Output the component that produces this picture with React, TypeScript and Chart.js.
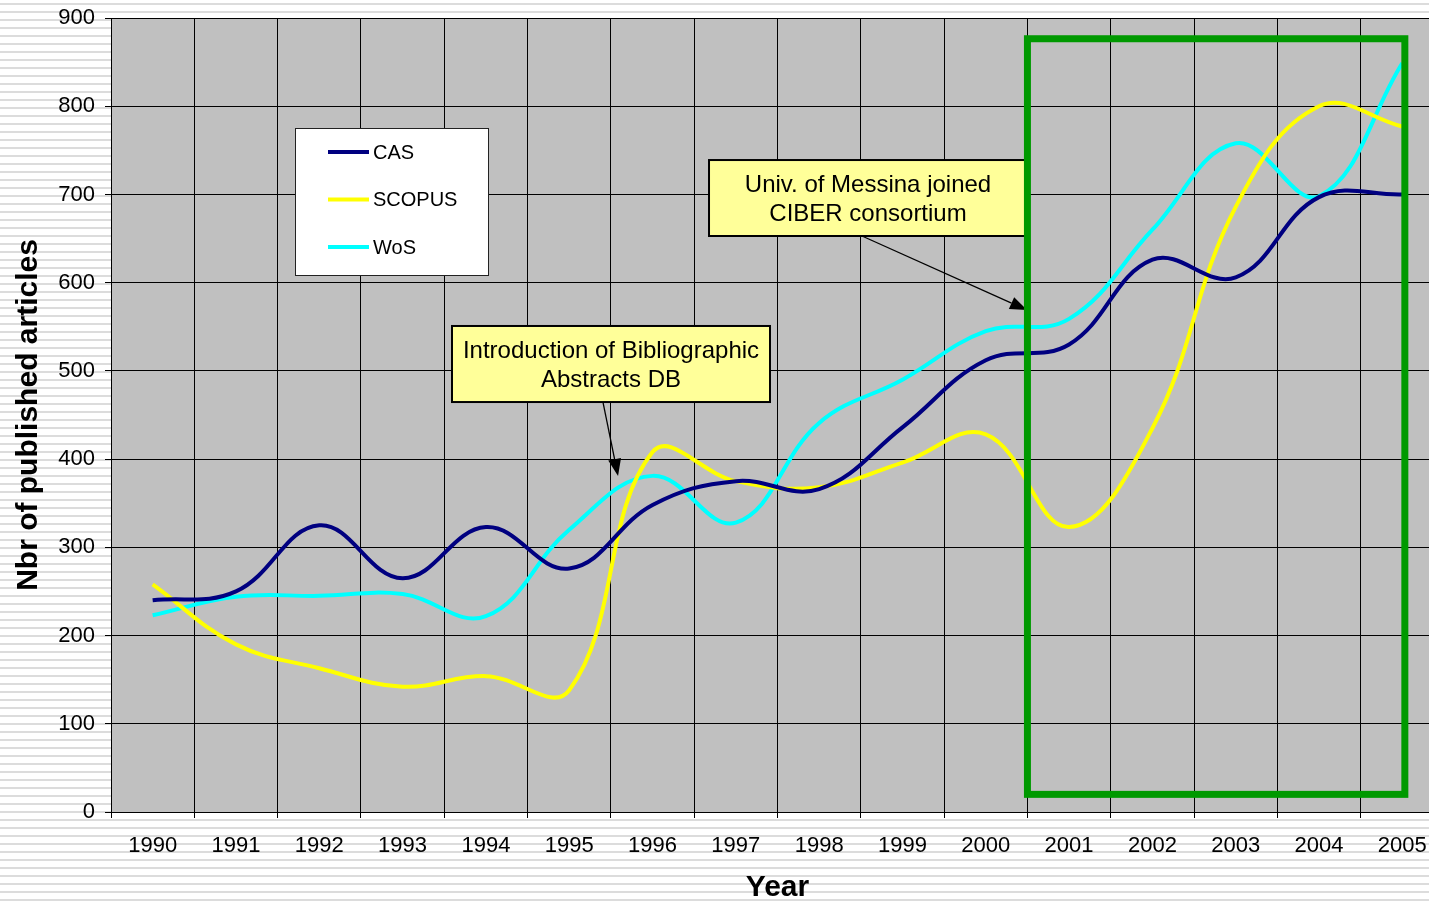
import React, { useEffect, useRef } from "react";
import { Chart, registerables } from "chart.js";

Chart.register(...registerables);

// ---- data ----
const years = ["1990", "1991", "1992", "1993", "1994", "1995", "1996", "1997", "1998", "1999", "2000", "2001", "2002", "2003", "2004", "2005"];
const casValues = [240, 250, 325, 265, 323, 276, 348, 375, 366, 436, 512, 530, 626, 606, 697, 700];
const scopusValues = [258, 190, 163, 142, 154, 138, 408, 375, 368, 396, 428, 323, 435, 686, 800, 777];
const wosValues = [223, 244, 245, 247, 222, 320, 381, 328, 441, 490, 545, 559, 660, 758, 698, 849];
const seriesNames = ["CAS", "SCOPUS", "WoS"];
const seriesColors = ["#000080", "#FFFF00", "#00FFFF"];
const yMin = 0;
const yMax = 900;
const yStep = 100;

const calloutTexts = [
  ["Introduction of Bibliographic", "Abstracts DB"],
  ["Univ. of Messina joined", "CIBER consortium"],
];
// annotation anchors in data space: [category index, value]
const calloutBoxes = [
  { from: [3.593, 550.9], to: [7.41, 464.7], arrowFrom: [5.405, 464.7], arrowTo: [5.586, 380.9] },
  { from: [6.678, 739.0], to: [10.495, 652.9], arrowFrom: [8.514, 652.9], arrowTo: [10.495, 569.0] },
];
const highlightBox = { from: [10.5, 876.5], to: [15.03, 20] };

const FONT = "'Liberation Sans', Arial, Helvetica, sans-serif";
const PLOT_BG = "#C0C0C0";

const decorPlugin = {
  id: "decor",
  beforeDraw(chart: any) {
    const { ctx, chartArea: a } = chart;
    ctx.save();
    ctx.fillStyle = PLOT_BG;
    ctx.fillRect(a.left, a.top, a.right - a.left, a.bottom - a.top);
    ctx.restore();
  },
  afterDraw(chart: any) {
    const { ctx, chartArea: a } = chart;
    const xs = chart.scales.x;
    const ys = chart.scales.y;
    const px = (v: number) => xs.getPixelForValue(v);
    const py = (v: number) => ys.getPixelForValue(v);

    // callouts
    calloutBoxes.forEach((c, i) => {
      const x0 = px(c.from[0]);
      const x1 = px(c.to[0]);
      const y0 = py(c.from[1]);
      const y1 = py(c.to[1]);
      ctx.save();
      // arrow
      const ax0 = px(c.arrowFrom[0]);
      const ay0 = py(c.arrowFrom[1]);
      const ax1 = px(c.arrowTo[0]);
      const ay1 = py(c.arrowTo[1]);
      const ang = Math.atan2(ay1 - ay0, ax1 - ax0);
      const headLen = 17;
      const headW = 6.5;
      const bx = ax1 - headLen * Math.cos(ang);
      const by = ay1 - headLen * Math.sin(ang);
      ctx.strokeStyle = "#000";
      ctx.lineWidth = 1.3;
      ctx.beginPath();
      ctx.moveTo(ax0, ay0);
      ctx.lineTo(bx, by);
      ctx.stroke();
      ctx.fillStyle = "#000";
      ctx.beginPath();
      ctx.moveTo(ax1, ay1);
      ctx.lineTo(bx + headW * Math.sin(ang), by - headW * Math.cos(ang));
      ctx.lineTo(bx - headW * Math.sin(ang), by + headW * Math.cos(ang));
      ctx.closePath();
      ctx.fill();
      // box
      ctx.fillStyle = "#FFFF99";
      ctx.fillRect(x0, y0, x1 - x0, y1 - y0);
      ctx.lineWidth = 2;
      ctx.strokeStyle = "#000";
      ctx.strokeRect(x0, y0, x1 - x0, y1 - y0);
      ctx.fillStyle = "#000";
      ctx.font = `24px ${FONT}`;
      ctx.textAlign = "center";
      ctx.textBaseline = "middle";
      const lines = calloutTexts[i];
      const cx = (x0 + x1) / 2;
      const cy = (y0 + y1) / 2 + 2;
      const lh = 28.5;
      lines.forEach((t, k) => {
        ctx.fillText(t, cx, cy + (k - (lines.length - 1) / 2) * lh);
      });
      ctx.restore();
    });

    // green highlight box
    ctx.save();
    ctx.strokeStyle = "#009900";
    ctx.lineWidth = 7;
    const gx0 = px(highlightBox.from[0]);
    const gx1 = px(highlightBox.to[0]);
    const gy0 = py(highlightBox.from[1]);
    const gy1 = py(highlightBox.to[1]);
    ctx.strokeRect(gx0, gy0, gx1 - gx0, gy1 - gy0);
    ctx.restore();

    // legend
    ctx.save();
    const lx = a.left + 184;
    const ly = a.top + 110;
    const lw = 193;
    const lhgt = 147;
    ctx.fillStyle = "#FFFFFF";
    ctx.fillRect(lx, ly, lw, lhgt);
    ctx.strokeStyle = "#222";
    ctx.lineWidth = 1;
    ctx.strokeRect(lx + 0.5, ly + 0.5, lw, lhgt);
    ctx.font = `20px ${FONT}`;
    ctx.textAlign = "left";
    ctx.textBaseline = "middle";
    chart.data.datasets.forEach((ds: any, i: number) => {
      const yy = ly + 24 + i * 47.5;
      ctx.strokeStyle = ds.borderColor;
      ctx.lineWidth = 4;
      ctx.beginPath();
      ctx.moveTo(lx + 33, yy);
      ctx.lineTo(lx + 74, yy);
      ctx.stroke();
      ctx.fillStyle = "#000";
      ctx.fillText(ds.label, lx + 78, yy + 1);
    });
    ctx.restore();
  },
};

export default function App() {
  const canvasRef = useRef<HTMLCanvasElement | null>(null);

  useEffect(() => {
    if (!canvasRef.current) return;
    const seriesValues = [casValues, scopusValues, wosValues];
    const chart = new Chart(canvasRef.current, {
      type: "line",
      data: {
        labels: years,
        datasets: seriesNames.map((name, i) => ({
          label: name,
          data: seriesValues[i],
          borderColor: seriesColors[i],
          backgroundColor: seriesColors[i],
          borderWidth: 4,
          pointRadius: 0,
          pointHoverRadius: 0,
          tension: 0.4,
          fill: false,
        })),
      },
      options: {
        responsive: false,
        animation: false,
        devicePixelRatio: 1,
        layout: { padding: { left: 0, top: 18, right: 16, bottom: 0 } },
        plugins: {
          legend: { display: false },
          tooltip: { enabled: false },
        },
        scales: {
          x: {
            type: "category",
            offset: true,
            grid: { display: true, offset: true, color: "#000", lineWidth: 1, drawTicks: true, tickLength: 6 },
            border: { display: true, color: "#000", width: 1 },
            ticks: { color: "#000", font: { family: FONT, size: 22 }, padding: 15, maxRotation: 0, autoSkip: false },
            title: { display: true, text: "Year", color: "#000", font: { family: FONT, size: 30, weight: "bold", lineHeight: 1.1 }, padding: { top: 0, bottom: 0 } },
            afterFit: (s: any) => {
              s.height = 92;
              s.paddingLeft = 0;
              s.paddingRight = 0;
            },
          },
          y: {
            min: yMin,
            max: yMax,
            grid: { display: true, color: "#000", lineWidth: 1, drawTicks: true, tickLength: 6 },
            border: { display: true, color: "#000", width: 1 },
            ticks: { stepSize: yStep, color: "#000", font: { family: FONT, size: 22 }, padding: 10 },
            title: { display: true, text: "Nbr of published articles", color: "#000", font: { family: FONT, size: 30, weight: "bold" }, padding: { top: 11, bottom: 0 } },
            afterFit: (s: any) => {
              s.width = 111;
              s.paddingTop = 0;
              s.paddingBottom = 0;
            },
          },
        },
      },
      plugins: [decorPlugin],
    } as any);
    return () => chart.destroy();
  }, []);

  return (
    <div
      style={{
        position: "fixed",
        left: 0,
        top: 0,
        width: 1429,
        height: 904,
        overflow: "hidden",
        background:
          "repeating-linear-gradient(to bottom, #ffffff 0px, #ffffff 3px, #dcdcdc 3px, #dcdcdc 5px, #ffffff 5px, #ffffff 8px)",
      }}
    >
      <canvas ref={canvasRef} width={1460} height={904} style={{ display: "block" }} />
    </div>
  );
}
